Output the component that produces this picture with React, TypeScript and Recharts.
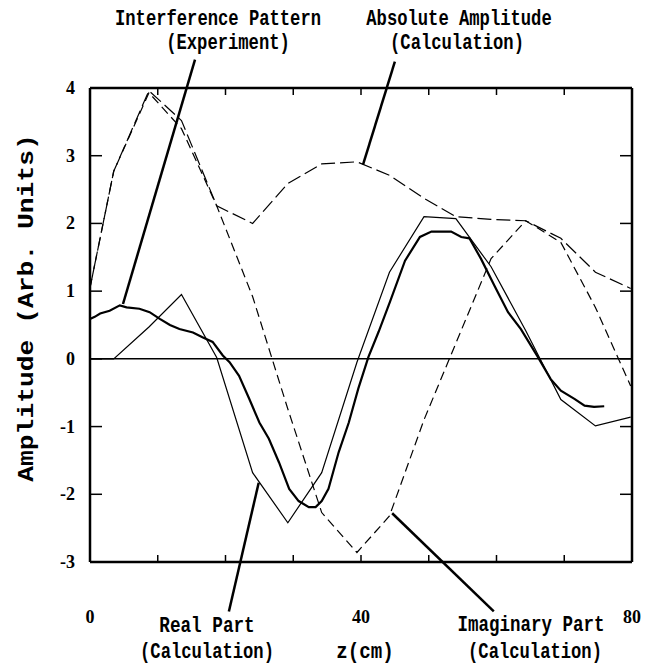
import React from 'react';
import { LineChart, Line, XAxis, YAxis, ReferenceLine } from 'recharts';

// Calculated field along z (cm)
const calcZ = [0, 3.5, 8.7, 13.5, 18.7, 24.0, 29.2, 34.2, 39.4, 44.2, 49.3, 54.0, 59.2, 64.3, 69.5, 74.6, 79.8];
const realPart = [0, 0, 0.47, 0.95, 0.02, -1.68, -2.42, -1.68, -0.05, 1.28, 2.1, 2.07, 1.36, 0.42, -0.6, -0.99, -0.86];
const imagPart = [1.05, 2.77, 3.93, 3.4, 2.26, 0.92, -0.74, -2.27, -2.86, -2.32, -0.9, 0.23, 1.48, 2.04, 1.72, 0.76, -0.4];
const absAmp = [1.05, 2.77, 3.96, 3.52, 2.26, 2.0, 2.59, 2.88, 2.91, 2.71, 2.37, 2.1, 2.06, 2.04, 1.78, 1.28, 1.04];

// Measured interference pattern
const expZ = [0, 0.7, 1.5, 2.9, 4.4, 5.4, 7.3, 8.8, 10.3, 11.8, 13.2, 15.2, 16.6, 18.1, 19.6, 20.6, 22.0, 23.5, 25.0, 26.4, 27.9, 29.4, 30.8, 32.3, 33.3, 34.2, 35.2, 36.7, 38.2, 39.6, 41.1, 42.6, 44.3, 46.5, 48.7, 50.4, 53.3, 54.8, 56.0, 57.7, 59.7, 61.7, 63.6, 66.1, 68.0, 69.5, 71.5, 73.0, 74.4, 75.9];
const expAmp = [0.59, 0.62, 0.67, 0.71, 0.79, 0.76, 0.74, 0.69, 0.59, 0.5, 0.44, 0.39, 0.32, 0.25, 0.05, -0.05, -0.25, -0.59, -0.94, -1.18, -1.53, -1.92, -2.1, -2.19, -2.19, -2.1, -1.92, -1.38, -0.94, -0.44, 0.03, 0.4, 0.85, 1.45, 1.8, 1.88, 1.88, 1.8, 1.78, 1.48, 1.08, 0.69, 0.44, 0.03, -0.3, -0.47, -0.59, -0.69, -0.71, -0.7];

const yTicks = [-3, -2, -1, 0, 1, 2, 3, 4];
const zTicks = [0, 10, 20, 30, 40, 50, 60, 70, 80];
const zLabelled = [0, 40, 80];

// Leader lines from captions to curves, in (z, amplitude) units
const leaderExp = [{ x: 15.5, y: 4.42 }, { x: 4.87, y: 0.81 }];
const leaderAbs = [{ x: 45.0, y: 4.39 }, { x: 40.3, y: 2.87 }];
const leaderReal = [{ x: 24.9, y: -1.83 }, { x: 20.5, y: -3.73 }];
const leaderImag = [{ x: 44.6, y: -2.28 }, { x: 59.6, y: -3.73 }];

const W = 647;
const H = 669;
const LABEL_FONT = '"Liberation Mono", monospace';
const NUM_FONT = '"Liberation Serif", serif';

const toRows = (zs: number[], vs: number[]) => zs.map((z, i) => ({ z, v: vs[i] }));
const realRows = toRows(calcZ, realPart);
const imagRows = toRows(calcZ, imagPart);
const absRows = toRows(calcZ, absAmp);
const expRows = toRows(expZ, expAmp);

const LeftTick = (p: any) => (
  <g>
    <line x1={p.x} y1={p.y} x2={p.x + 12} y2={p.y} stroke="#000" strokeWidth={1.5} />
    <text x={p.x - 15} y={p.y} textAnchor="end" dominantBaseline="central" fontFamily={NUM_FONT} fontWeight="bold" fontSize={18} fill="#000">
      {String(p.payload.value)}
    </text>
  </g>
);

const RightTick = (p: any) => (
  <line x1={p.x} y1={p.y} x2={p.x - 12} y2={p.y} stroke="#000" strokeWidth={1.5} />
);

const BottomTick = (p: any) => (
  <g>
    <line x1={p.x} y1={p.y} x2={p.x} y2={p.y - 7} stroke="#000" strokeWidth={1.5} />
    {zLabelled.includes(p.payload.value) ? (
      <text x={p.x} y={p.y + 55} textAnchor="middle" dominantBaseline="central" fontFamily={NUM_FONT} fontWeight="bold" fontSize={18} fill="#000">
        {String(p.payload.value)}
      </text>
    ) : null}
  </g>
);

const TopTick = (p: any) => (
  <line x1={p.x} y1={p.y} x2={p.x} y2={p.y + 7} stroke="#000" strokeWidth={1.5} />
);

const Caption = ({ x, y, text, perChar = 10.3 }: { x: number; y: number; text: string; perChar?: number }) => (
  <text
    x={x}
    y={y}
    textAnchor="middle"
    dominantBaseline="central"
    fontFamily={LABEL_FONT}
    fontWeight="bold"
    fontSize={22}
    textLength={text.length * perChar}
    lengthAdjust="spacingAndGlyphs"
    fill="#000"
  >
    {text}
  </text>
);

const axisStroke = { stroke: '#000', strokeWidth: 2.5 };

export default function App() {
  return (
    <div style={{ position: 'absolute', left: 0, top: 0, width: W, height: H, background: '#fff' }}>
      <LineChart width={W} height={H} margin={{ top: 87, right: 14, bottom: 0, left: 0 }}>
        <XAxis
          dataKey="z"
          type="number"
          domain={[0, 80]}
          ticks={zTicks}
          interval={0}
          height={107}
          tickSize={0}
          tickMargin={0}
          tickLine={false}
          tick={BottomTick}
          axisLine={axisStroke}
          allowDataOverflow
        />
        <XAxis
          xAxisId="top"
          orientation="top"
          dataKey="z"
          type="number"
          domain={[0, 80]}
          ticks={zTicks.slice(1, -1)}
          interval={0}
          height={1}
          tickSize={0}
          tickMargin={0}
          tickLine={false}
          tick={TopTick}
          axisLine={axisStroke}
          allowDataOverflow
        />
        <YAxis
          type="number"
          domain={[-3, 4]}
          ticks={yTicks}
          interval={0}
          width={90}
          tickSize={0}
          tickMargin={0}
          tickLine={false}
          tick={LeftTick}
          axisLine={axisStroke}
          allowDataOverflow
        />
        <YAxis
          yAxisId="right"
          orientation="right"
          type="number"
          domain={[-3, 4]}
          ticks={yTicks.slice(1, -1)}
          interval={0}
          width={1}
          tickSize={0}
          tickMargin={0}
          tickLine={false}
          tick={RightTick}
          axisLine={axisStroke}
          allowDataOverflow
        />
        <ReferenceLine y={0} stroke="#000" strokeWidth={1.5} />

        <Line data={absRows} dataKey="v" type="linear" stroke="#000" strokeWidth={1.2} strokeDasharray="14 5" dot={false} isAnimationActive={false} />
        <Line data={imagRows} dataKey="v" type="linear" stroke="#000" strokeWidth={1.2} strokeDasharray="9 5" dot={false} isAnimationActive={false} />
        <Line data={realRows} dataKey="v" type="linear" stroke="#000" strokeWidth={1.2} dot={false} isAnimationActive={false} />
        <Line data={expRows} dataKey="v" type="linear" stroke="#000" strokeWidth={2.2} dot={false} isAnimationActive={false} />

        <ReferenceLine segment={leaderExp} stroke="#000" strokeWidth={2.5} ifOverflow="visible" />
        <ReferenceLine segment={leaderAbs} stroke="#000" strokeWidth={2.5} ifOverflow="visible" />
        <ReferenceLine segment={leaderReal} stroke="#000" strokeWidth={2.5} ifOverflow="visible" />
        <ReferenceLine segment={leaderImag} stroke="#000" strokeWidth={2.5} ifOverflow="visible" />
      </LineChart>

      <svg width={W} height={H} style={{ position: 'absolute', left: 0, top: 0, pointerEvents: 'none' }}>
        <Caption x={218} y={19} text="Interference Pattern" />
        <Caption x={228} y={43} text="(Experiment)" />
        <Caption x={459} y={19} text="Absolute Amplitude" />
        <Caption x={457} y={43} text="(Calculation)" />
        <Caption x={207} y={626} text="Real Part" perChar={10.6} />
        <Caption x={207} y={652} text="(Calculation)" />
        <Caption x={531} y={625} text="Imaginary Part" perChar={10.5} />
        <Caption x={535} y={652} text="(Calculation)" />
        <Caption x={365} y={652} text="z(cm)" perChar={11.5} />
        <g transform="translate(27,308) rotate(-90)">
          <Caption x={0} y={0} text="Amplitude (Arb. Units)" perChar={15.8} />
        </g>
      </svg>
    </div>
  );
}
